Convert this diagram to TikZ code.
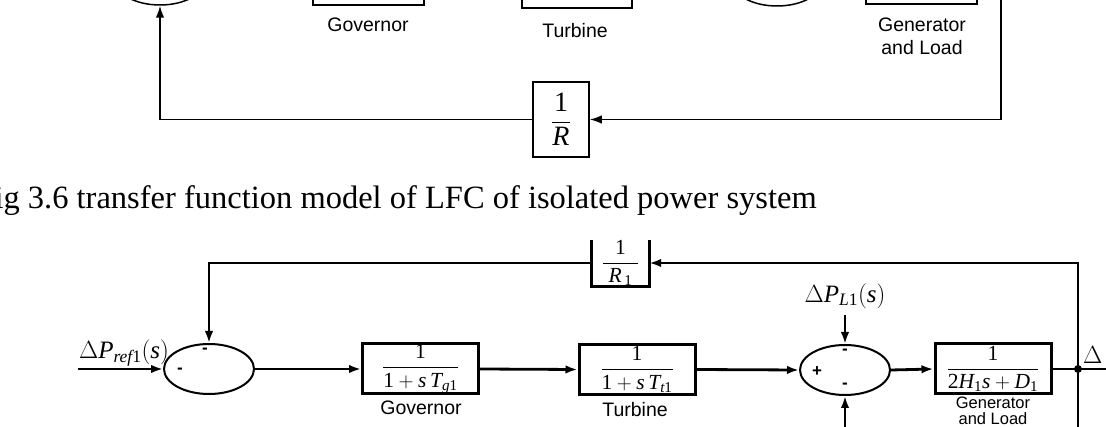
\documentclass[tikz,border=0pt]{standalone}
\usepackage{amsmath}
\usepackage{fontspec}
\setmainfont{Liberation Serif}
\newfontfamily\lblfont{Liberation Sans}
\usetikzlibrary{arrows.meta,shapes.geometric}
\newcommand\vr[1]{\text{\itshape #1}}
\newcommand\nm[1]{\text{#1}}

\begin{document}
\begin{tikzpicture}[x=1pt, y=-1pt, line join=miter,
  blk/.style={draw, line width=3pt, minimum width=116pt, minimum height=50pt, inner sep=0pt},
  sumj/.style={draw, ellipse, line width=2pt, minimum width=90pt, minimum height=50pt, inner sep=0pt},
  sig/.style={line width=2.8pt},
  thinsig/.style={line width=1.6pt},
  arr/.style={-{Latex[length=12pt, width=8.5pt]}},
  lbl/.style={font=\lblfont\fontsize{19.5}{21}\selectfont, align=center, inner sep=0pt},
  sgn/.style={font=\lblfont\bfseries\fontsize{17}{17}\selectfont, inner sep=0pt},
  mth/.style={font=\fontsize{21.5}{24}\selectfont}]

%-----------------------
% page: 1106 x 427, the upper figure is cut at the top
%-----------------------
\useasboundingbox (0,0) rectangle (1106,427);
\fill[white] (0,0) rectangle (1106,427);
\clip (0,0) rectangle (1106,427);

%-----------------------
% upper figure (only its lower part shows)
%-----------------------
\node[sumj, line width=1.5pt] (S0) at (160,-20) {};
\node[blk, line width=1.6pt, minimum width=111pt] (G0) at (368.5,-20) {};
\node[blk, line width=1.6pt, minimum width=110pt] (T0) at (577,-17) {};
\node[sumj, line width=1.5pt] (S0b) at (777,-19) {};
\node[blk, line width=1.6pt, minimum width=111pt] (GL0) at (921.5,-21) {};

\node[lbl] (G0l) at (368,25) {Governor};
\node[lbl] (T0l) at (575,31) {Turbine};
\node[lbl] (GL0l) at (922,36) {Generator\\[2pt]and Load};

\node[draw, line width=1.6pt, minimum width=56pt, minimum height=75pt, inner sep=0pt,
      font=\fontsize{28}{30}\selectfont] (R0) at (561,119.5)
      {$\dfrac{\nm{1}}{\vr{R}}$};
\coordinate (o0) at (1001,-30);
\draw[thinsig, arr] (o0) |- (R0.east);      % feedback from the output
\draw[thinsig, arr] (R0.west) -| (S0.south); % back to the summing point

%-----------------------
% caption
%-----------------------
\node[anchor=base east, inner sep=0pt, font=\fontsize{32.5}{36}\selectfont] (cap) at (817,209)
  {Fig 3.6 transfer function model of LFC of isolated power system};

%-----------------------
% lower figure: blocks
%-----------------------
\coordinate (in1) at (78,369);
\node[sumj] (S1) at (209,369) {};
\node[blk, mth] (G1) at (420.5,369) {$\dfrac{\nm{1}}{\nm{1}+\vr{s\,T}_{\vr{g}\nm{1}}}$};
\node[blk, mth] (T1) at (637,369.5) {$\dfrac{\nm{1}}{\nm{1}+\vr{s\,T}_{\vr{t}\nm{1}}}$};
\node[sumj] (S2) at (845,370) {};
\node[blk, mth] (GL) at (993,369) {$\dfrac{\nm{1}}{\nm{2}\vr{H}_{\nm{1}}\vr{s}+\vr{D}_{\nm{1}}}$};
\node[mth, minimum width=57pt, minimum height=46pt, inner sep=0pt] (R1) at (620.5,263)
  {$\dfrac{\nm{1}}{\;\vr{R}_{\,\nm{1}}\;}$};
\draw[line width=3pt] (R1.north west) -- (R1.south west) -- (R1.south east) -- (R1.north east);

\node[lbl] (G1l) at (421,408) {Governor};
\node[lbl] (T1l) at (635,410) {Turbine};
\node[lbl, font=\lblfont\fontsize{16.5}{15.5}\selectfont] (GLl) at (993,411) {Generator\\and Load};

% input and load disturbance
\node[font=\fontsize{25}{27}\selectfont, inner sep=0pt] (ref) at (124,353) {$\Delta\vr{P}_{\vr{ref}\nm{1}}(\vr{s})$};
\node[font=\fontsize{25}{27}\selectfont, inner sep=0pt] (PL) at (845,296) {$\Delta\vr{P}_{\vr{L}\nm{1}}(\vr{s})$};
\coordinate (ld) at (845,315);
\coordinate (ldb) at (845,432);

% signs at the summing points
\node[sgn] (m1) at (205,351) {-};
\node[sgn] (m2) at (180,371) {-};
\node[sgn] (p3) at (817,372) {+};
\node[sgn] (m4) at (845,352) {-};
\node[sgn] (m5) at (845,386) {-};

%-----------------------
% lower figure: signals
%-----------------------
\draw[sig, arr] (in1) -- (S1.west);
\draw[sig, arr] (S1.east) -- (G1.west);
\draw[sig, arr] (G1.east) -- (T1.west);
\draw[sig, arr] (T1.east) -- (S2.west);
\draw[sig, arr] (S2.east) -- (GL.west);
\draw[sig, arr] (ld) -- (S2.north);
\draw[sig, arr] (ldb) -- (S2.south);

\coordinate (tap) at (1078,369);
\coordinate (out1) at (1110,369);
\coordinate (tapb) at (1078,432);
\draw[sig] (GL.east) -- (out1);
\fill (tap) circle (4);
\draw[sig, arr] (tapb) |- (R1.east);         % feedback through 1/R1
\draw[sig, arr] (R1.west) -| (S1.north);

\node[anchor=west, inner sep=0pt, font=\fontsize{25}{27}\selectfont] (dw) at (1083,355) {$\Delta$};

\end{tikzpicture}
\end{document}
